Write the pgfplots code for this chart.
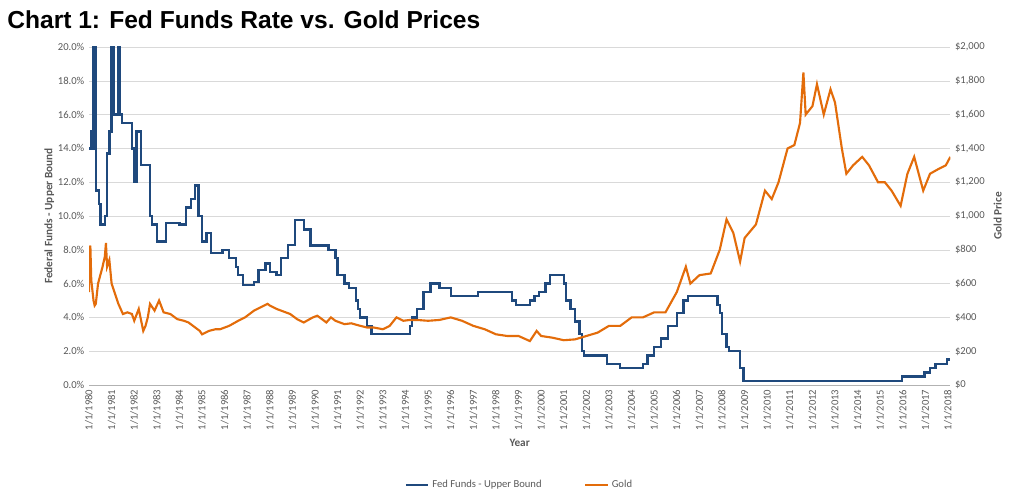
\documentclass[border=0pt]{standalone}
\usepackage{pgfplots}
\pgfplotsset{compat=1.18}
\usepackage{fontspec}
\setmainfont{Carlito}
\newfontfamily\arialb{Liberation Sans}
\definecolor{fed}{HTML}{1F497D}
\definecolor{gold}{HTML}{E36C0A}
\definecolor{tick}{HTML}{595959}
\begin{document}
\begin{tikzpicture}[x=1bp,y=1bp]
\path (0,0) rectangle (765,372);
\node[anchor=west,font=\arialb\bfseries\fontsize{18.5}{20}\selectfont] at (2,357) {Chart 1: Fed Funds Rate vs. Gold Prices};
\pgfplotsset{every axis/.style={scale only axis,width=646bp,height=253.5bp,at={(66.75bp,83.25bp)},anchor=origin,
 xmin=1980,xmax=2018.1,
 tick label style={font=\fontsize{8}{9}\selectfont,text=tick},
 /pgf/number format/assume math mode=true,
 label style={font=\bfseries\fontsize{8.5}{10}\selectfont,text=tick},
 major tick length=0pt}}
\begin{axis}[axis x line*=bottom, axis y line*=left, y axis line style={draw=none},
  x axis line style={draw=gray!60},
  ymin=0,ymax=20, ytick={0,2,...,20},
  yticklabel={\pgfmathprintnumber[fixed,fixed zerofill,precision=1]{\tick}\%},
  ymajorgrids, grid style={gray!30},
  xtick={1980,...,2018}, xticklabel={1/1/\pgfmathprintnumber[1000 sep={}]{\tick}},
  xticklabel style={rotate=90,anchor=east},
  xlabel={Year}, ylabel={Federal Funds - Upper Bound},
  ylabel style={yshift=-4pt}]
\addplot[const plot, fed, line width=1.8pt] coordinates {
(1980.0,14)(1980.1,15)(1980.15,14)(1980.2,20.5)(1980.27,20)(1980.3,11.5)(1980.45,10.7)(1980.5,9.5)(1980.7,10)(1980.8,13.7)(1980.9,15)(1981.0,20.5)(1981.1,16)(1981.3,20.5)(1981.38,16)(1981.45,15.5)(1981.9,14)(1982.0,12)(1982.1,15)(1982.3,13)(1982.7,10)(1982.8,9.5)(1983.0,8.5)(1983.4,9.6)(1984.0,9.5)(1984.3,10.5)(1984.5,11)(1984.7,11.8)(1984.85,10)(1985.0,8.5)(1985.2,9)(1985.4,7.8)(1985.9,8)(1986.2,7.5)(1986.5,7)(1986.6,6.5)(1986.8,5.9)(1987.3,6.1)(1987.5,6.8)(1987.8,7.2)(1988.0,6.7)(1988.3,6.5)(1988.5,7.5)(1988.8,8.3)(1989.1,9.75)(1989.5,9.2)(1989.8,8.25)(1990.6,8)(1990.9,7.5)(1991.0,6.5)(1991.3,6)(1991.5,5.75)(1991.8,5)(1991.9,4.5)(1992.0,4)(1992.3,3.5)(1992.5,3.0)(1994.0,3.0)(1994.2,3.5)(1994.3,4)(1994.5,4.5)(1994.8,5.5)(1995.1,6)(1995.5,5.75)(1996.0,5.25)(1997.2,5.5)(1998.7,5.0)(1998.9,4.75)(1999.5,5.0)(1999.7,5.25)(1999.9,5.5)(2000.2,6)(2000.4,6.5)(2001.0,6.0)(2001.1,5)(2001.3,4.5)(2001.5,3.75)(2001.7,3.0)(2001.8,2.0)(2001.9,1.75)(2002.9,1.25)(2003.5,1.0)(2004.5,1.25)(2004.7,1.75)(2005.0,2.25)(2005.3,2.75)(2005.6,3.5)(2006.0,4.25)(2006.3,5)(2006.5,5.25)(2007.7,5.25)(2007.8,4.75)(2007.9,4.25)(2008.0,3.0)(2008.2,2.25)(2008.3,2.0)(2008.8,1.0)(2008.95,0.25)(2015.95,0.5)(2016.95,0.75)(2017.2,1.0)(2017.45,1.25)(2017.95,1.5)(2018.1,1.5)};
\end{axis}
\begin{axis}[axis x line=none, axis y line*=right, y axis line style={draw=none},
  ymin=0,ymax=2000, ytick={0,200,...,2000},
  yticklabel={\$\pgfmathprintnumber[1000 sep={,}]{\tick}},
  ylabel={Gold Price},
  legend style={draw=none,fill=none,at={(0.5,-0.265)},anchor=north,legend columns=2,font=\fontsize{8}{9}\selectfont,text=tick,/tikz/every even column/.append style={column sep=30bp}}]
\addlegendimage{fed,line width=1.8pt}
\addlegendentry{Fed Funds - Upper Bound}
\addplot[gold, line width=1.6pt] coordinates {
(1980.0,550)(1980.03,800)(1980.06,825)(1980.1,620)(1980.2,500)(1980.25,470)(1980.3,480)(1980.4,600)(1980.5,650)(1980.6,700)(1980.7,760)(1980.75,840)(1980.8,700)(1980.9,740)(1981.0,600)(1981.1,560)(1981.2,520)(1981.3,480)(1981.5,420)(1981.7,430)(1981.9,420)(1982.0,380)(1982.2,450)(1982.4,320)(1982.5,350)(1982.6,400)(1982.7,480)(1982.9,440)(1983.1,500)(1983.3,430)(1983.6,420)(1983.9,390)(1984.2,380)(1984.4,370)(1984.6,350)(1984.9,320)(1985.0,300)(1985.3,320)(1985.6,330)(1985.8,330)(1986.2,350)(1986.6,380)(1986.9,400)(1987.3,440)(1987.6,460)(1987.9,480)(1988.0,470)(1988.3,450)(1988.5,440)(1988.9,420)(1989.2,390)(1989.5,370)(1989.9,400)(1990.1,410)(1990.5,370)(1990.7,400)(1990.9,380)(1991.3,360)(1991.6,365)(1992.0,350)(1992.3,340)(1992.6,340)(1993.0,330)(1993.3,350)(1993.6,400)(1993.9,380)(1994.2,385)(1994.5,385)(1995.0,380)(1995.5,385)(1996.0,400)(1996.5,380)(1997.0,350)(1997.5,330)(1998.0,300)(1998.5,290)(1999.0,290)(1999.5,260)(1999.8,320)(2000.0,290)(2000.5,280)(2001.0,265)(2001.5,270)(2002.0,290)(2002.5,310)(2003.0,350)(2003.5,350)(2004.0,400)(2004.5,400)(2005.0,430)(2005.5,430)(2006.0,550)(2006.4,700)(2006.6,600)(2007.0,650)(2007.5,660)(2007.9,800)(2008.2,980)(2008.5,900)(2008.8,730)(2009.0,870)(2009.5,950)(2009.9,1150)(2010.2,1100)(2010.5,1200)(2010.9,1400)(2011.2,1420)(2011.45,1550)(2011.6,1850)(2011.7,1600)(2012.0,1650)(2012.2,1780)(2012.5,1600)(2012.8,1750)(2013.0,1670)(2013.3,1400)(2013.5,1250)(2013.8,1300)(2014.2,1350)(2014.5,1300)(2014.9,1200)(2015.2,1200)(2015.5,1150)(2015.9,1060)(2016.2,1250)(2016.5,1350)(2016.9,1150)(2017.2,1250)(2017.6,1280)(2017.9,1300)(2018.1,1350)};
\addlegendentry{Gold}
\end{axis}
\end{tikzpicture}
\end{document}
